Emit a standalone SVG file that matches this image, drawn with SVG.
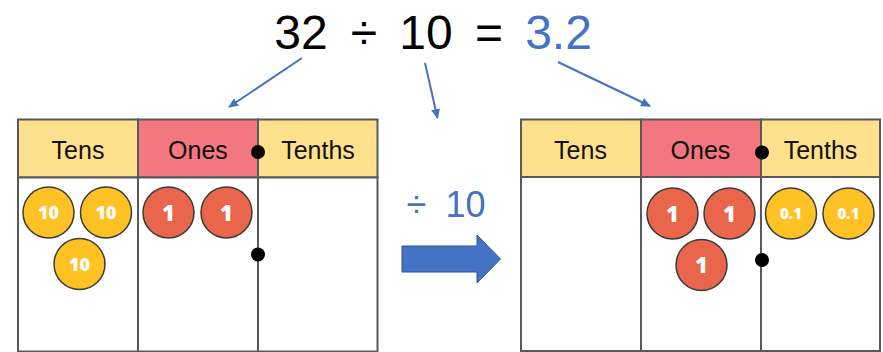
<svg xmlns="http://www.w3.org/2000/svg" width="883" height="352" viewBox="0 0 883 352">
  <style>
    .hdrY { fill: #FFE08C; stroke: #595959; stroke-width: 2; }
    .hdrR { fill: #F2777E; stroke: #595959; stroke-width: 2; }
    .body { fill: #FFFFFF; stroke: #595959; stroke-width: 2; }
    .hdrText { font-family: "Liberation Sans", Arial, sans-serif; font-size: 25px; fill: #111; text-anchor: middle; }
    .title { font-family: "Liberation Sans", Arial, sans-serif; font-size: 48px; text-anchor: middle; }
    .cy { fill: #FFC225; stroke: #3a3a3a; stroke-width: 1.5; }
    .cr { fill: #E9664C; stroke: #3a3a3a; stroke-width: 1.5; }
    .ct { font-family: "Open Sans", "DejaVu Sans", sans-serif; font-weight: 800; fill: #FFFFFF; text-anchor: middle; }
    .dot { fill: #000; }
    .conn { stroke: #4472C4; stroke-width: 2; fill: none; }
  </style>
  <defs>
    <marker id="ah" markerWidth="10" markerHeight="9" refX="9" refY="4.5" orient="auto" markerUnits="userSpaceOnUse">
      <path d="M0,0 L10,4.5 L0,9 Z" fill="#4472C4"/>
    </marker>
  </defs>

  <g id="equation">
    <text class="title" x="301" y="49" fill="#000">32</text>
    <text class="title" x="364" y="49" fill="#000">÷</text>
    <text class="title" x="426" y="49" fill="#000">10</text>
    <text class="title" x="489" y="49" fill="#000">=</text>
    <text class="title" x="558.5" y="49" fill="#4472C4">3.2</text>
  </g>

  <g id="connectors">
    <line class="conn" x1="302" y1="58" x2="229" y2="107" marker-end="url(#ah)"/>
    <line class="conn" x1="425" y1="63" x2="437.5" y2="118" marker-end="url(#ah)"/>
    <line class="conn" x1="558" y1="62" x2="650" y2="106" marker-end="url(#ah)"/>
  </g>

  <g id="left-table">
    <rect class="hdrY" x="18" y="119.5" width="120" height="58"/>
    <rect class="hdrR" x="138" y="119.5" width="120" height="58"/>
    <rect class="hdrY" x="258" y="119.5" width="119.5" height="58"/>
    <rect class="body" x="18" y="177.5" width="120" height="174"/>
    <rect class="body" x="138" y="177.5" width="120" height="174"/>
    <rect class="body" x="258" y="177.5" width="119.5" height="174"/>
    <text class="hdrText" x="78" y="159">Tens</text>
    <text class="hdrText" x="198" y="159">Ones</text>
    <text class="hdrText" x="318" y="159">Tenths</text>
    <circle class="dot" cx="258" cy="152" r="7"/>
    <circle class="dot" cx="258" cy="254.5" r="7"/>
  </g>

  <g id="left-counters">
    <circle class="cy" cx="48.5" cy="212.5" r="25.5"/>
    <text class="ct" x="48.5" y="219" font-size="18">10</text>
    <circle class="cy" cx="106" cy="212.5" r="25.5"/>
    <text class="ct" x="106" y="219" font-size="18">10</text>
    <circle class="cy" cx="79.5" cy="264" r="25.5"/>
    <text class="ct" x="79.5" y="270.5" font-size="18">10</text>
    <circle class="cr" cx="168.5" cy="212.5" r="25.5"/>
    <text class="ct" x="168.5" y="220.5" font-size="22">1</text>
    <circle class="cr" cx="226.5" cy="212.5" r="25.5"/>
    <text class="ct" x="226.5" y="220.5" font-size="22">1</text>
  </g>

  <g id="divide-arrow">
    <text x="416.5" y="216.5" font-family="Liberation Sans, Arial, sans-serif" font-size="36" fill="#4472C4" text-anchor="middle">÷</text>
    <text x="465.5" y="216.5" font-family="Liberation Sans, Arial, sans-serif" font-size="36" fill="#4472C4" text-anchor="middle">10</text>
    <path d="M402,246 L477,246 L477,235 L500.5,259 L477,283 L477,272 L402,272 Z" fill="#4472C4" stroke="#2F528F" stroke-width="1"/>
  </g>

  <g id="right-table">
    <rect class="hdrY" x="521" y="119.5" width="120" height="57.5"/>
    <rect class="hdrR" x="641" y="119.5" width="120" height="57.5"/>
    <rect class="hdrY" x="761" y="119.5" width="119" height="57.5"/>
    <rect class="body" x="521" y="177" width="120" height="174"/>
    <rect class="body" x="641" y="177" width="120" height="174"/>
    <rect class="body" x="761" y="177" width="119" height="174"/>
    <text class="hdrText" x="580.5" y="158.5">Tens</text>
    <text class="hdrText" x="700.5" y="158.5">Ones</text>
    <text class="hdrText" x="820.5" y="158.5">Tenths</text>
    <circle class="dot" cx="762" cy="152.5" r="7"/>
    <circle class="dot" cx="762" cy="260" r="7"/>
  </g>

  <g id="right-counters">
    <circle class="cr" cx="672.5" cy="213.5" r="25.5"/>
    <text class="ct" x="672.5" y="221.5" font-size="22">1</text>
    <circle class="cr" cx="729.5" cy="213.5" r="25.5"/>
    <text class="ct" x="729.5" y="221.5" font-size="22">1</text>
    <circle class="cr" cx="701.5" cy="265" r="25.5"/>
    <text class="ct" x="701.5" y="273" font-size="22">1</text>
    <circle class="cy" cx="791" cy="213.5" r="25.5"/>
    <text class="ct" x="791" y="219" font-size="15">0.1</text>
    <circle class="cy" cx="848.5" cy="213.5" r="25.5"/>
    <text class="ct" x="848.5" y="219" font-size="15">0.1</text>
  </g>
</svg>
